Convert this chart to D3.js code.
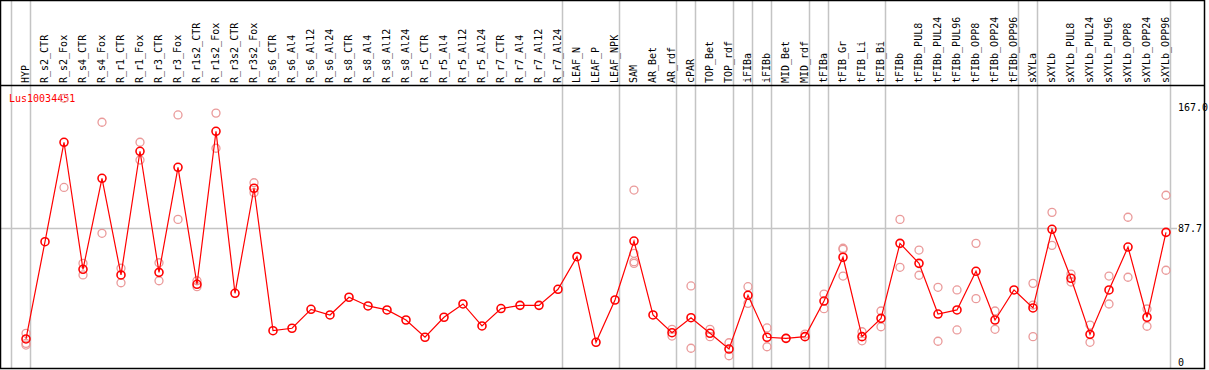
<!DOCTYPE html>
<html>
<head>
<meta charset="utf-8">
<script src="https://cdn.jsdelivr.net/npm/d3@7"></script>
<style>
  body { margin: 0; background: #fff; }
  svg { display: block; }
</style>
</head>
<body>
<div id="chart"></div>
<script>
var geneName = "Lus10034451";

var categories = ["HYP","R_s2_CTR","R_s2_Fox","R_s4_CTR","R_s4_Fox","R_r1_CTR","R_r1_Fox","R_r3_CTR","R_r3_Fox",
  "R_r1s2_CTR","R_r1s2_Fox","R_r3s2_CTR","R_r3s2_Fox","R_s6_CTR","R_s6_Al4","R_s6_Al12","R_s6_Al24",
  "R_s8_CTR","R_s8_Al4","R_s8_Al12","R_s8_Al24","R_r5_CTR","R_r5_Al4","R_r5_Al12","R_r5_Al24",
  "R_r7_CTR","R_r7_Al4","R_r7_Al12","R_r7_Al24","LEAF_N","LEAF_P","LEAF_NPK","SAM","AR_Bet","AR_rdf",
  "cPAR","TOP_Bet","TOP_rdf","iFIBa","iFIBb","MID_Bet","MID_rdf","tFIBa","tFIB_Gr","tFIB_Li","tFIB_Bi",
  "tFIBb","tFIBb_PUL8","tFIBb_PUL24","tFIBb_PUL96","tFIBb_OPP8","tFIBb_OPP24","tFIBb_OPP96",
  "sXYLa","sXYLb","sXYLb_PUL8","sXYLb_PUL24","sXYLb_PUL96","sXYLb_OPP8","sXYLb_OPP24","sXYLb_OPP96"];

// mean expression per sample
var means = [15.1,78.8,143.9,60.7,120.3,57.0,138.0,58.7,127.5,50.9,151.1,45.0,113.8,20.5,22.1,34.5,30.8,
  42.4,36.7,34.1,27.5,16.2,29.3,38.0,23.6,35.0,37.1,37.1,47.6,69.0,12.9,40.6,79.2,30.8,19.2,
  29.0,18.8,8.5,43.7,16.2,15.5,16.6,39.9,68.6,16.6,28.6,77.7,64.6,31.4,34.1,59.4,27.5,47.2,
  35.4,86.9,54.8,18.1,47.2,75.3,29.3,84.9];

// individual replicates (pale circles)
var replicates = [[18.8,12.2,11.1],[],[172.7,114.3],[64.6,57.0],[157.0,84.3],[61.4,51.9],[143.9,132.3],[65.0,53.2],[161.8,93.4],
  [53.2,49.3],[163.0,140.0],[],[117.4,110.9],[],[],[],[],
  [],[],[],[],[],[],[],[],
  [],[],[],[],[],[],[],[112.6,71.2,65.7,64.6],[],[21.4,17.0],
  [49.8,9.0],[21.4,16.6],[12.6,4.1],[49.3,38.4],[22.3,10.0],[15.5],[18.3],[44.5,34.9],[74.5,73.8,56.3],[19.8,13.9],[33.4,23.1],
  [93.4,62.0],[73.3,56.8],[48.9,13.6],[47.2,21.0],[77.7,41.5],[33.4,21.4],[],
  [51.5,37.3,16.6],[98.0,76.4],[57.6,52.4],[24.2,12.9],[56.3,38.0],[94.8,55.5],[34.7,23.4],[109.2,60.1]];

// group separators are drawn before these samples (last one closes the chart)
var groupStarts = ["HYP","R_s2_CTR","LEAF_N","SAM","cPAR","TOP_Bet","iFIBa","iFIBb","MID_Bet","tFIBa","tFIB_Gr","tFIBb","sXYLa","sXYLb"];

var yTicks = [0, 87.7, 167.0];
var yMax = 167.0;

var W = 1209, H = 370;
var right = 1204.5, bottom = 368.5, headerY = 85.5;
var fontMono = "'DejaVu Sans Mono', monospace";

var svg = d3.select("#chart").append("svg")
    .attr("width", W)
    .attr("height", H);

var x = d3.scalePoint()
    .domain(categories)
    .range([26, 1166]);
var step = x.step();

var y = d3.scaleLinear()
    .domain([0, yMax])
    .range([362, 107]);

// vertical group separators
var sepX = groupStarts.map(function(c){ return x(c) - 15; });
sepX.push(x(categories[categories.length - 1]) + step - 15);

svg.selectAll("line.sep")
    .data(sepX)
    .enter().append("line")
    .classed("sep", true)
    .attr("x1", function(d){ return Math.round(d) + 0.5; })
    .attr("x2", function(d){ return Math.round(d) + 0.5; })
    .attr("y1", 0)
    .attr("y2", bottom)
    .attr("stroke", "#c4c4c4")
    .attr("stroke-width", 1.5);

// mid grid line
svg.append("line")
    .attr("x1", 0)
    .attr("x2", 1177)
    .attr("y1", Math.round(y(yTicks[1])) + 0.5)
    .attr("y2", Math.round(y(yTicks[1])) + 0.5)
    .attr("stroke", "#c4c4c4")
    .attr("stroke-width", 1.5);

// sample labels (rotated)
svg.selectAll("text.sample")
    .data(categories)
    .enter().append("text")
    .classed("sample", true)
    .attr("transform", function(d){ return "translate(" + (x(d) + 3) + "," + 83 + ") rotate(-90)"; })
    .attr("font-family", fontMono)
    .attr("font-size", "10px")
    .attr("fill", "black")
    .text(function(d){ return d; });

// gene label
svg.append("text")
    .attr("x", 9)
    .attr("y", 102)
    .attr("font-family", fontMono)
    .attr("font-size", "10px")
    .attr("fill", "red")
    .text(geneName);

// replicate circles
var repPoints = [];
replicates.forEach(function(reps, i){
    reps.forEach(function(v){ repPoints.push({c: categories[i], v: v}); });
});

svg.selectAll("circle.rep")
    .data(repPoints)
    .enter().append("circle")
    .classed("rep", true)
    .attr("cx", function(d){ return x(d.c); })
    .attr("cy", function(d){ return y(d.v); })
    .attr("r", 4)
    .attr("fill", "none")
    .attr("stroke", "#ea9a9a")
    .attr("stroke-width", 1.3);

// mean line
var meanData = categories.map(function(c, i){ return {c: c, v: means[i]}; });

svg.append("path")
    .datum(meanData)
    .attr("fill", "none")
    .attr("stroke", "red")
    .attr("stroke-width", 1.2)
    .attr("d", d3.line()
        .x(function(d){ return x(d.c); })
        .y(function(d){ return y(d.v); }));

svg.selectAll("circle.mean")
    .data(meanData)
    .enter().append("circle")
    .classed("mean", true)
    .attr("cx", function(d){ return x(d.c); })
    .attr("cy", function(d){ return y(d.v); })
    .attr("r", 4)
    .attr("fill", "none")
    .attr("stroke", "red")
    .attr("stroke-width", 1.6);

// y axis labels on the right
var yAxis = svg.append("g")
    .attr("transform", "translate(1172,0)")
    .call(d3.axisRight(y)
        .tickValues(yTicks)
        .tickSize(0)
        .tickPadding(6)
        .tickFormat(function(d){ return d === 0 ? "0" : d.toFixed(1); }));
yAxis.select(".domain").remove();
yAxis.selectAll("text")
    .attr("font-family", fontMono)
    .attr("font-size", "10px")
    .attr("fill", "black");

// frame and header rule
svg.append("line")
    .attr("x1", 0).attr("x2", right)
    .attr("y1", headerY).attr("y2", headerY)
    .attr("stroke", "black")
    .attr("stroke-width", 1.5);

svg.append("rect")
    .attr("x", 0.5)
    .attr("y", 0.5)
    .attr("width", right - 0.5)
    .attr("height", bottom - 0.5)
    .attr("fill", "none")
    .attr("stroke", "black")
    .attr("stroke-width", 1.5);
</script>
</body>
</html>
